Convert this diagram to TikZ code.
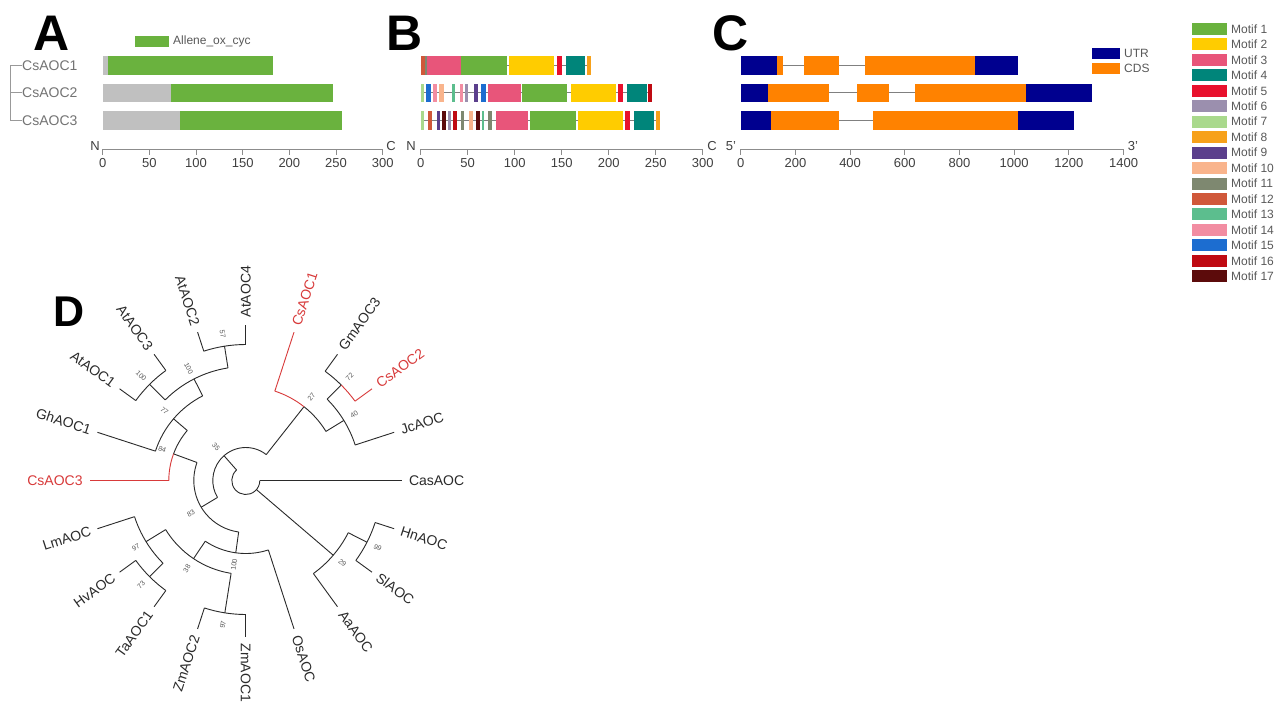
\documentclass[tikz,border=0pt]{standalone}
\usepackage{fontspec}
\setmainfont{Liberation Sans}
\definecolor{m1}{HTML}{6AB23E}
\definecolor{m2}{HTML}{FFCC00}
\definecolor{m3}{HTML}{E8557A}
\definecolor{m4}{HTML}{00857A}
\definecolor{m5}{HTML}{E8112D}
\definecolor{m6}{HTML}{9B8FAE}
\definecolor{m7}{HTML}{A9D98C}
\definecolor{m8}{HTML}{F7A11A}
\definecolor{m9}{HTML}{5B3F8C}
\definecolor{m10}{HTML}{F9B48C}
\definecolor{m11}{HTML}{7E8870}
\definecolor{m12}{HTML}{D0583A}
\definecolor{m13}{HTML}{5CBE8E}
\definecolor{m14}{HTML}{F28DA2}
\definecolor{m15}{HTML}{1C6DD0}
\definecolor{m16}{HTML}{BF0A12}
\definecolor{m17}{HTML}{5C0B0B}
\definecolor{cutr}{HTML}{00008F}
\definecolor{ccds}{HTML}{FF8200}
\definecolor{cred}{HTML}{D83A3A}
\definecolor{agray}{HTML}{C0C0C0}
\definecolor{tcol}{HTML}{2A2A2A}
\newcommand{\blk}[4]{\fill[#1] (#2,#4) rectangle (#3,{#4+18.5});}
\newcommand{\radial}[4][treeline]{\draw[#1] (#2:#3) -- (#2:#4);}
\newcommand{\carc}[4][treeline]{\draw[#1] (#3:#2) arc[start angle=#3, end angle=#4, radius=#2pt];}
\begin{document}
\begin{tikzpicture}[x=1pt,y=-1pt,
  panel/.style={font=\fontsize{50}{50}\selectfont\bfseries, inner sep=0pt, anchor=base},
  ticklab/.style={font=\fontsize{13}{13}\selectfont, text=black!75, inner sep=0pt, anchor=north},
  axisline/.style={draw=black!45, line width=0.9pt},
  endlab/.style={font=\fontsize{13}{13}\selectfont, text=black!75, inner sep=0pt, anchor=base},
  glab/.style={font=\fontsize{14}{14}\selectfont, text=black!55, inner sep=0pt, anchor=west},
  gtree/.style={draw=black!40, line width=0.8pt},
  leglab/.style={font=\fontsize{12}{12}\selectfont, text=black!65, inner sep=0pt, anchor=west},
  treeline/.style={draw=tcol, line width=0.9pt},
  redline/.style={draw=cred, line width=0.9pt},
  tiplab/.style={font=\fontsize{14}{14}\selectfont, inner sep=0pt},
  boot/.style={font=\fontsize{7}{7}\selectfont, text=black!65, inner sep=0pt},
  intron/.style={draw=black!50, line width=0.9pt}
]
\useasboundingbox (0,0) rectangle (1280,710);
\fill[white] (0,0) rectangle (1280,710);

% ---------------- Panel A ----------------
\node[panel] (labA) at (52,50) {A};
\fill[m1] (135,35.5) rectangle (169,46.5);
\node[leglab] (domlab) at (173,41) {Allene\_ox\_cyc};
\node[glab] (g1) at (22,65.25) {CsAOC1};
\node[glab] (g2) at (22,92.75) {CsAOC2};
\node[glab] (g3) at (22,120.25) {CsAOC3};
\draw[gtree] (g1.west) -- ++(-12,0) |- (g3.west);
\draw[gtree] (g2.west) -- ++(-12,0);
\blk{agray}{102.7}{108.3}{56}  \blk{m1}{108.3}{272.6}{56}
\blk{agray}{102.7}{170.7}{83.5} \blk{m1}{170.7}{333.2}{83.5}
\blk{agray}{102.7}{180}{111}   \blk{m1}{180}{341.6}{111}
\draw[axisline] (102.7,149) -- (382.7,149);
\foreach \v in {0,50,...,300}{
  \draw[axisline] ({102.7+0.9333*\v},149) -- ++(0,6);
  \node[ticklab] at ({102.7+0.9333*\v},158) {\v};
}
\node[endlab] at (95,150) {N};
\node[endlab] at (391,150) {C};

% ---------------- Panel B ----------------
\node[panel] (labB) at (405,50) {B};
\draw[intron] (420.7,65.25) -- (591,65.25);
\draw[intron] (420.7,92.75) -- (652.3,92.75);
\draw[intron] (420.7,120.25) -- (660,120.25);
% row 1
\blk{m12}{420.7}{424.5}{56} \blk{m11}{424.5}{427}{56} \blk{m3}{427}{460.7}{56}
\blk{m1}{460.7}{507.3}{56} \blk{m2}{509.3}{554.3}{56} \blk{m5}{556.7}{561.7}{56}
\blk{m4}{565.7}{585}{56} \blk{m8}{587.3}{591}{56}
% row 2
\blk{m7}{420.7}{424}{83.5} \blk{m15}{426}{430.7}{83.5} \blk{m14}{433.3}{436.7}{83.5}
\blk{m10}{439.3}{444}{83.5} \blk{m13}{451.7}{455}{83.5} \blk{m14}{460}{463.3}{83.5}
\blk{m6}{465}{468.3}{83.5} \blk{m9}{474}{478.3}{83.5} \blk{m15}{481}{486}{83.5}
\blk{m3}{488.3}{520.7}{83.5} \blk{m1}{521.7}{567.3}{83.5} \blk{m2}{570.7}{616}{83.5}
\blk{m5}{618.3}{623.3}{83.5} \blk{m4}{626.7}{646.7}{83.5} \blk{m16}{648.3}{652.3}{83.5}
% row 3
\blk{m7}{420.7}{424}{111} \blk{m12}{428.3}{431.7}{111} \blk{m9}{436.7}{440}{111}
\blk{m17}{441.7}{445.7}{111} \blk{m6}{447.7}{451}{111} \blk{m16}{453.3}{457.3}{111}
\blk{m11}{461}{464}{111} \blk{m10}{469}{473.3}{111} \blk{m17}{475.7}{480}{111}
\blk{m13}{481.7}{484.3}{111} \blk{m11}{488.3}{491.7}{111} \blk{m3}{495.7}{528.3}{111}
\blk{m1}{530}{575.7}{111} \blk{m2}{577.7}{622.7}{111} \blk{m5}{625}{630}{111}
\blk{m4}{634.3}{654}{111} \blk{m8}{655.7}{660}{111}
\draw[axisline] (420.7,149) -- (702.7,149);
\foreach \v in {0,50,...,300}{
  \draw[axisline] ({420.7+0.94*\v},149) -- ++(0,6);
  \node[ticklab] at ({420.7+0.94*\v},158) {\v};
}
\node[endlab] at (411,150) {N};
\node[endlab] at (712,150) {C};

% ---------------- Panel C ----------------
\node[panel] (labC) at (731,50) {C};
\draw[intron] (782.7,65.25) -- (804,65.25);
\draw[intron] (838.7,65.25) -- (865,65.25);
\draw[intron] (829.3,92.75) -- (856.7,92.75);
\draw[intron] (889.3,92.75) -- (915,92.75);
\draw[intron] (838.7,120.25) -- (873.3,120.25);
\blk{cutr}{740.7}{777.3}{56} \blk{ccds}{777.3}{782.7}{56} \blk{ccds}{804}{838.7}{56}
\blk{ccds}{865}{975}{56} \blk{cutr}{975}{1018.3}{56}
\blk{cutr}{740.7}{768.3}{83.5} \blk{ccds}{768.3}{829.3}{83.5} \blk{ccds}{856.7}{889.3}{83.5}
\blk{ccds}{915}{1026}{83.5} \blk{cutr}{1026}{1091.7}{83.5}
\blk{cutr}{740.7}{770.7}{111} \blk{ccds}{770.7}{838.7}{111}
\blk{ccds}{873.3}{1018.3}{111} \blk{cutr}{1018.3}{1074}{111}
\fill[cutr] (1092,47.5) rectangle (1120,58.5);
\node[leglab] (utrlab) at (1124,53) {UTR};
\fill[ccds] (1092,62.5) rectangle (1120,73.5);
\node[leglab] (cdslab) at (1124,68) {CDS};
\draw[axisline] (740.7,149) -- (1123.6,149);
\foreach \v in {0,200,...,1400}{
  \draw[axisline] ({740.7+0.2735*\v},149) -- ++(0,6);
  \node[ticklab] at ({740.7+0.2735*\v},158) {\v};
}
\node[endlab] at (731,150) {5'};
\node[endlab] at (1133,150) {3'};

% ---------------- Motif legend ----------------
\foreach \k in {1,...,17}{
  \fill[m\k] (1192,{29+15.45*(\k-1)-6}) rectangle (1227,{29+15.45*(\k-1)+6});
  \node[leglab] at (1231,{29+15.45*(\k-1)}) {Motif \k};
}

% ---------------- Panel D ----------------
\node[panel, font=\fontsize{43}{43}\selectfont\bfseries] (labD) at (69,326.7) {D};
\begin{scope}[shift={(245.8,480.5)}, y=1pt]
  % internal radials
  \radial{131.3}{14}{33}
  \radial{-40.5}{14}{115}
  \radial{51.75}{33}{94}
  \radial{-149.1}{33}{52}
  \radial{31.5}{94}{115}
  \radial{45}{115}{135}
  \radial{159.75}{52}{77}
  \radial{-97.9}{52}{73}
  \radial{139.5}{77}{95}
  \radial{117}{95}{114}
  \radial{135}{114}{136}
  \radial{99}{114}{136}
  \radial{-123.75}{73}{94}
  \radial{-148.5}{94}{117}
  \radial{-135}{117}{136}
  \radial{-99}{94}{134}
  \radial{-27}{115}{136}
  % arcs
  \carc{14}{131.3}{360}
  \carc{33}{51.75}{210.9}
  \carc{94}{31.5}{51.75}
  \carc[redline]{94}{51.75}{72}
  \carc{115}{18}{45}
  \carc[redline]{135}{36}{45}
  \carc{135}{45}{54}
  \carc{52}{159.75}{262.1}
  \carc{77}{139.5}{159.75}
  \carc[redline]{77}{159.75}{180}
  \carc{95}{117}{162}
  \carc{114}{99}{135}
  \carc{136}{126}{144}
  \carc{136}{90}{108}
  \carc{73}{236.25}{288}
  \carc{94}{211.5}{261}
  \carc{117}{198}{225}
  \carc{136}{216}{234}
  \carc{134}{252}{270}
  \carc{115}{306}{333}
  \carc{136}{324}{342}
  % tips, right half
  \foreach \a/\r/\n/\c in {0/14/CasAOC/tcol, -18/136/HnAOC/tcol, -36/136/SlAOC/tcol,
      -54/115/AaAOC/tcol, -72/73/OsAOC/tcol, -90/134/ZmAOC1/tcol, 18/115/JcAOC/tcol,
      36/135/CsAOC2/cred, 54/135/GmAOC3/tcol, 72/94/CsAOC1/cred, 90/136/AtAOC4/tcol}{
    \draw[treeline, draw=\c] (\a:\r) -- (\a:156) coordinate (tip\n);
    \node[tiplab, text=\c, rotate=\a, anchor=west] (\n) at (\a:163) {\n};
  }
  % tips, left half
  \foreach \a/\r/\n/\c in {-108/134/ZmAOC2/tcol, -126/136/TaAOC1/tcol, -144/136/HvAOC/tcol,
      -162/117/LmAOC/tcol, 180/77/CsAOC3/cred, 162/95/GhAOC1/tcol, 144/136/AtAOC1/tcol,
      126/136/AtAOC3/tcol, 108/136/AtAOC2/tcol}{
    \draw[treeline, draw=\c] (\a:\r) -- (\a:156) coordinate (tip\n);
    \node[tiplab, text=\c, rotate=\a-180, anchor=east] (\n) at (\a:163) {\n};
  }
  % bootstrap values
  \foreach \a/\r/\v in {-40.5/115/29, 51.75/94/27, 31.5/115/40, 45/135/72, -27/136/99}{
    \node[boot, rotate=\a] at ({\a}:{\r+12}) {\v};
  }
  \foreach \a/\r/\v in {131.3/33/35, -149.1/52/83, 159.75/77/84, -97.9/73/100, 139.5/95/77,
      117/114/100, 135/136/100, 99/136/57, -123.75/94/38, -148.5/117/97, -135/136/73, -99/134/97}{
    \node[boot, rotate=\a-180] at ({\a}:{\r+12}) {\v};
  }
\end{scope}
\end{tikzpicture}
\end{document}
